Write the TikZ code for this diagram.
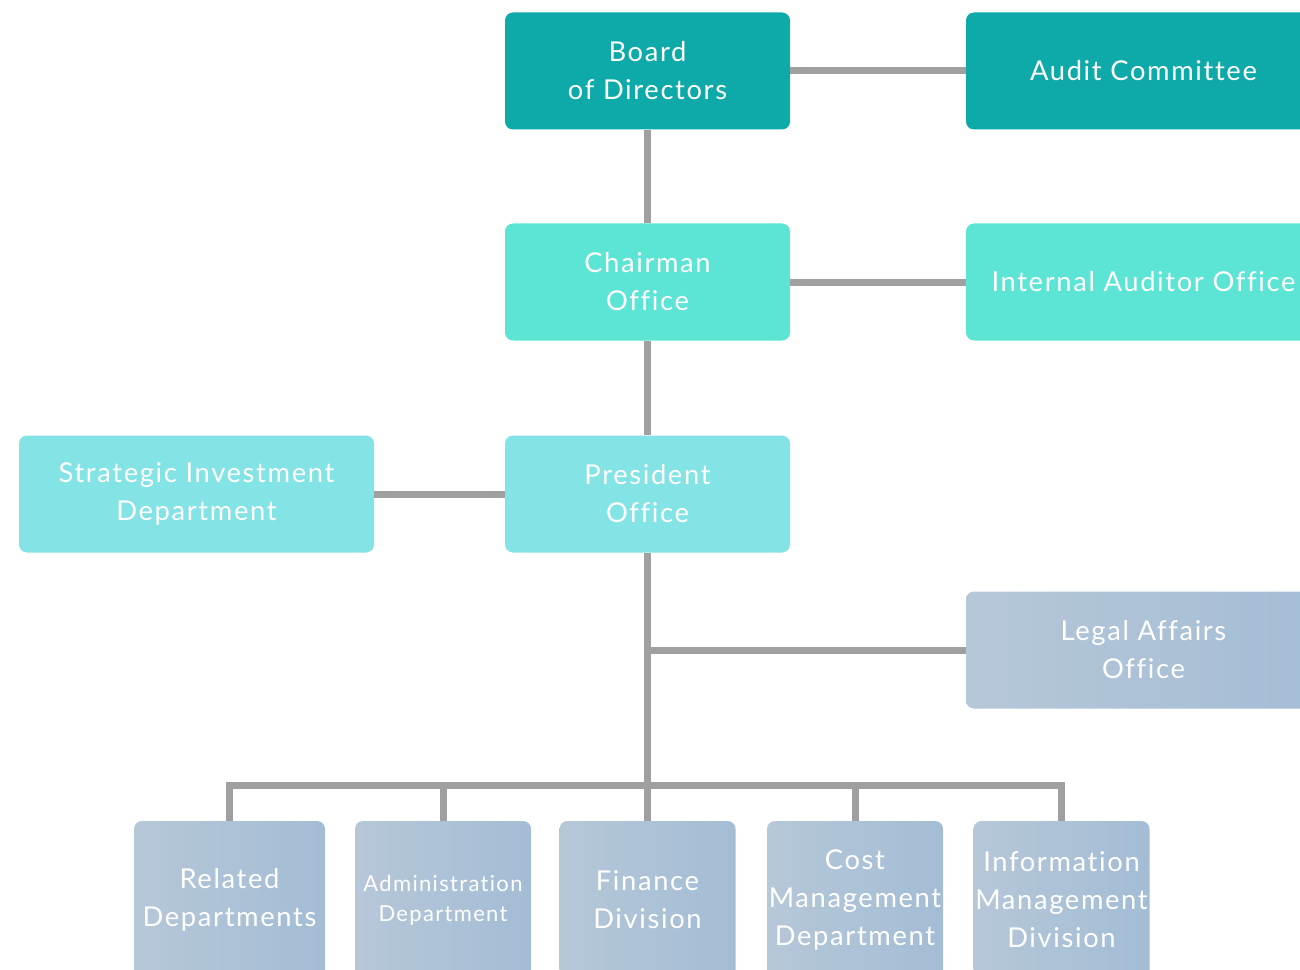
\documentclass[tikz,border=0pt]{standalone}
\usepackage{fontspec}
\setmainfont[LetterSpace=6,Ligatures={NoCommon}]{Lato}
\usepackage{tikz}
\usetikzlibrary{positioning}

\definecolor{boardteal}{HTML}{0EA9A9}
\definecolor{chairaqua}{HTML}{5CE5D5}
\definecolor{presaqua}{HTML}{84E3E5}
\definecolor{unitleft}{HTML}{B6C7D8}
\definecolor{unitright}{HTML}{A3BDD5}
\definecolor{linkgrey}{HTML}{A0A0A0}

\tikzset{
  orgbox/.style={rounded corners=6pt, inner sep=0.75pt, align=center, text=white,
    minimum width=213.75pt, minimum height=87.75pt,
    font=\fontsize{20.5}{28.5}\selectfont},
  sidebox/.style={orgbox, minimum width=266.25pt},
  unitbox/.style={orgbox, left color=unitleft, right color=unitright,
    minimum width=132pt, minimum height=118.5pt},
  link/.style={draw=linkgrey, line width=5.25pt},
}

\begin{document}
\begin{tikzpicture}[x=0.75pt,y=0.75pt,yscale=-1,xscale=1]
\useasboundingbox (0,0) rectangle (1300,970);
\clip (0,0) rectangle (1300,970);

% Top level
\node [orgbox, fill=boardteal] (board) at (647.5,71) {Board\\of Directors};
\node [sidebox, fill=boardteal] (audit) at (1143.5,71) {Audit Committee};
% Chairman level
\node [orgbox, fill=chairaqua] (chair) at (647.5,282) {Chairman\\Office};
\node [sidebox, fill=chairaqua] (iao) at (1143.5,282) {Internal Auditor Office};
% President level
\node [orgbox, fill=presaqua] (pres) at (647.5,494) {President\\Office};
\node [sidebox, fill=presaqua] (strat) at (196.5,494) {Strategic Investment\\Department};
% Legal
\node [sidebox, left color=unitleft, right color=unitright] (legal) at (1143.5,650) {Legal Affairs\\Office};
% Units
\node [unitbox, minimum width=143.25pt] (rel) at (229.5,900) {Related\\Departments};
\node [unitbox, font=\fontsize{16.5}{22.5}\selectfont] (admin) at (443,900) {Administration\\Department};
\node [unitbox] (fin) at (647.5,900) {Finance\\Division};
\node [unitbox] (cost) at (855,900) {Cost\\Management\\Department};
\node [unitbox] (info) at (1061.5,900) {Information\\Management\\Division};

% Connection
\draw [link] (board) -- (audit);
\draw [link] (board) -- (chair);
\draw [link] (chair) -- (iao);
\draw [link] (chair) -- (pres);
\draw [link] (strat) -- (pres);
\draw [link] (pres.south) -- (pres.south |- fin.north);
\draw [link] (pres.south |- legal.west) -- (legal.west);
% Bus
\coordinate (bus) at (647.5,785);
\draw [link] (rel.north) |- (bus) -| (info.north);
\draw [link] (admin.north) -- (admin.north |- bus);
\draw [link] (cost.north) -- (cost.north |- bus);

\end{tikzpicture}
\end{document}
